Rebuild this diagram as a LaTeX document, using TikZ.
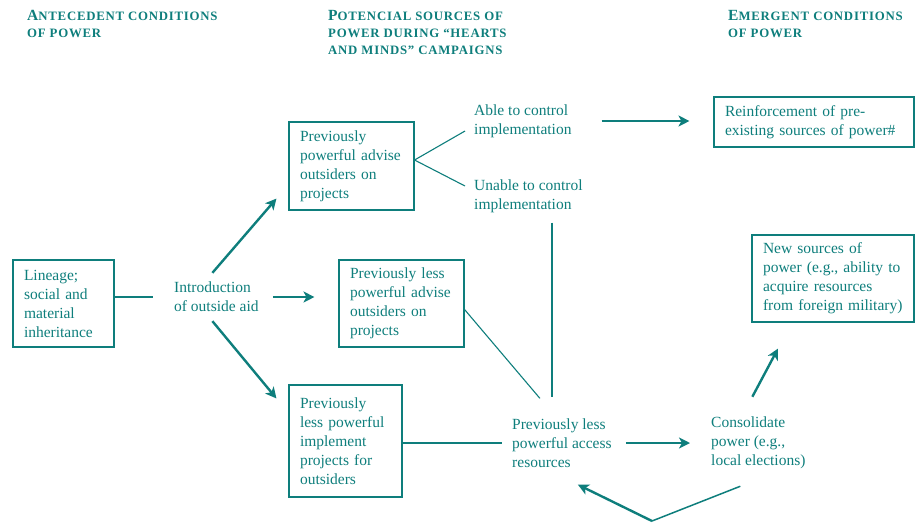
\documentclass[tikz,border=0pt]{standalone}
\usepackage{fontspec}
\setmainfont{Liberation Serif}
\newfontfamily\headfont[LetterSpace=6,Ligatures=TeX]{Liberation Serif}
\usetikzlibrary{arrows.meta}
\definecolor{tealc}{RGB}{14,126,124}
\newcommand{\hcap}[2]{{\fontsize{15.5}{17}\selectfont #1}#2}
\begin{document}
\begin{tikzpicture}[x=1pt,y=-1pt,
    every node/.style={text=tealc,font=\fontsize{15.5}{19}\selectfont},
    box/.style={draw=tealc,line width=1.1pt,align=left,inner xsep=11pt,inner ysep=0pt},
    txt/.style={anchor=west,align=left,inner sep=0pt},
    head/.style={anchor=north west,align=left,inner sep=0pt,font=\headfont\bfseries\fontsize{12.8}{17}\selectfont},
    ln/.style={draw=tealc,line width=1.1pt},
    arr/.style={draw=tealc,line width=2.4pt,-{Stealth[length=11pt,width=11pt,inset=3pt]}}]
        \useasboundingbox (0,0) rectangle (917,523);
        % column heads
        \node[head] (hant) at (27,10) {\hcap{A}{NTECEDENT CONDITIONS}\\OF POWER};
        \node[head] (hpot) at (328,10) {\hcap{P}{OTENCIAL SOURCES OF}\\POWER DURING “HEARTS\\AND MINDS” CAMPAIGNS};
        \node[head] (hemg) at (728,10) {\hcap{E}{MERGENT CONDITIONS}\\OF POWER};
        % nodes
        \node[box,text width=79pt,minimum height=87pt] (lineage) at (63.5,303.5) {Lineage;\\social and\\material\\inheritance};
        \node[txt] (intro) at (174,297) {Introduction\\of outside aid};
        \node[box,text width=103pt,minimum height=88pt] (adv1) at (351.5,166) {Previously\\powerful advise\\outsiders on\\projects};
        \node[box,text width=103pt,minimum height=87pt] (adv2) at (401.5,303.5) {Previously less\\powerful advise\\outsiders on\\projects};
        \node[box,text width=91pt,minimum height=112pt] (impl) at (345.5,441) {Previously\\less powerful\\implement\\projects for\\outsiders};
        \node[txt] (able) at (474,121) {Able to control\\implementation};
        \node[txt] (unable) at (474,196) {Unable to control\\implementation};
        \node[txt] (access) at (512,443) {Previously less\\powerful access\\resources};
        \node[txt] (cons) at (711,443) {Consolidate\\power (e.g.,\\local elections)};
        \node[box,text width=178pt,minimum height=50pt] (reinf) at (814,122) {Reinforcement of pre-\\existing sources of power\#};
        \node[box,text width=140pt,minimum height=87pt] (new) at (833,278.5) {New sources of\\power (e.g., ability to\\acquire resources\\from foreign military)};
        \coordinate (loop) at (652,521);
        % connectors
        \draw[ln,shorten >=21pt] (lineage.east |- intro.west) -- (intro.west);
        \draw[arr] ([shift={(-4,-9)}]intro.north) -- ([shift={(-12,-12)}]adv1.south west);
        \draw[arr,shorten <=14pt,shorten >=24pt] (intro.east) -- (intro.east -| adv2.west);
        \draw[arr] ([shift={(-4,9)}]intro.south) -- ([shift={(-12,14)}]impl.north west);
        \draw[ln] ([shift={(-9,10)}]able.west) -- ([yshift=6pt]adv1.east) -- ([shift={(-9,-10)}]unable.west);
        \draw[arr,shorten <=30pt,shorten >=24pt] (able.east) -- (able.east -| reinf.west);
        \draw[ln,shorten <=10pt,shorten >=21pt] ([xshift=78pt]unable.south west) -- ([xshift=78pt]unable.south west |- access.north);
        \draw[ln] ([yshift=-6pt]adv2.east) -- ([shift={(-22,-20)}]access.north);
        \draw[ln,shorten >=10pt] (impl.east |- access.west) -- (access.west);
        \draw[arr,shorten <=14pt,shorten >=21pt] (access.east) -- (cons.west);
        \draw[arr] ([shift={(-6,-20)}]cons.north) -- ([shift={(-55,26)}]new.south);
        \draw[draw=tealc,line width=1.5pt] ([shift={(-18,17)}]cons.south) -- (loop);
        \draw[arr] (loop) -- ([shift={(16,17)}]access.south);
\end{tikzpicture}
\end{document}
